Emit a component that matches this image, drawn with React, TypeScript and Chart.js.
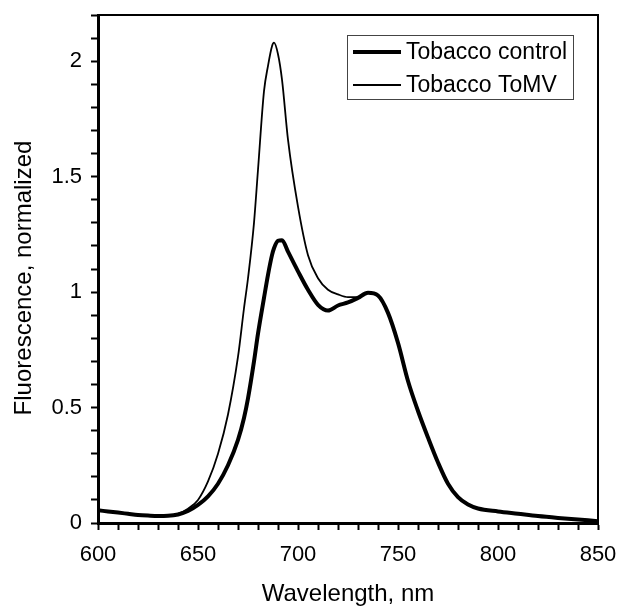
import React, { useEffect, useRef } from "react";
import { Chart, registerables } from "chart.js";

Chart.register(...registerables);

const wavelengths = [
  600, 605, 610, 615, 620, 625, 630, 635, 640, 645, 650, 655, 660, 665, 670, 673, 675, 678, 680,
  683, 685, 687, 688, 690, 692, 695, 700, 705, 710, 715, 720, 725, 730, 735, 740, 745, 750, 755,
  760, 765, 770, 775, 780, 785, 790, 800, 810, 820, 830, 840, 850,
];

const tobaccoControl = [
  0.055, 0.05, 0.045, 0.04, 0.035, 0.032, 0.03, 0.031, 0.037, 0.052, 0.078, 0.115, 0.17, 0.25,
  0.36, 0.455, 0.54, 0.7, 0.82, 0.975, 1.075, 1.16, 1.19, 1.222, 1.225, 1.175, 1.09, 1.01, 0.945,
  0.92, 0.942, 0.955, 0.975, 0.997, 0.985, 0.91, 0.78, 0.615, 0.485, 0.37, 0.262, 0.17, 0.112,
  0.08, 0.063, 0.05, 0.04, 0.03, 0.022, 0.015, 0.008,
];

const tobaccoToMV = [
  0.055, 0.05, 0.045, 0.04, 0.035, 0.032, 0.03, 0.032, 0.04, 0.062, 0.1, 0.18, 0.3, 0.47, 0.72,
  0.93, 1.06, 1.3, 1.53, 1.87, 1.98, 2.065, 2.08, 2.03, 1.92, 1.66, 1.37, 1.16, 1.06, 1.01, 0.99,
  0.978, 0.978, 0.997, 0.985, 0.91, 0.78, 0.615, 0.485, 0.37, 0.262, 0.17, 0.112, 0.08, 0.063,
  0.05, 0.04, 0.03, 0.022, 0.015, 0.008,
];

const seriesLabels = ["Tobacco control", "Tobacco ToMV"];
const xTickLabels = ["600", "650", "700", "750", "800", "850"];
const yTickLabels = ["0", "0.5", "1", "1.5", "2"];
const xTitle = "Wavelength, nm";
const yTitle = "Fluorescence, normalized";

const FONT = "'Liberation Sans', Arial, sans-serif";

const zeroPad = (s: any) => {
  s.paddingLeft = 0;
  s.paddingRight = 0;
  s.paddingTop = 0;
  s.paddingBottom = 0;
};

const framePlugin = {
  id: "frameAndLegend",
  afterDraw(chart: any) {
    const { ctx, chartArea } = chart;
    ctx.save();
    // top and right frame
    ctx.strokeStyle = "#000";
    ctx.lineWidth = 2;
    ctx.beginPath();
    ctx.moveTo(chartArea.left, chartArea.top);
    ctx.lineTo(chartArea.right, chartArea.top);
    ctx.lineTo(chartArea.right, chartArea.bottom);
    ctx.stroke();

    // y axis title
    ctx.save();
    ctx.translate(24, (chartArea.top + chartArea.bottom) / 2 + 9);
    ctx.rotate(-Math.PI / 2);
    ctx.fillStyle = "#000";
    ctx.font = `24px ${FONT}`;
    ctx.textAlign = "center";
    ctx.textBaseline = "middle";
    ctx.fillText(yTitle, 0, 0);
    ctx.restore();

    // legend box
    const boxW = 226;
    const boxH = 64;
    const boxRight = chartArea.right - 25;
    const boxLeft = boxRight - boxW;
    const boxTop = chartArea.top + 20;
    ctx.fillStyle = "#fff";
    ctx.fillRect(boxLeft, boxTop, boxW, boxH);
    ctx.strokeStyle = "#444";
    ctx.lineWidth = 1;
    ctx.strokeRect(boxLeft + 0.5, boxTop + 0.5, boxW, boxH);

    chart.data.datasets.forEach((ds: any, i: number) => {
      const y = boxTop + 17 + i * 33;
      ctx.strokeStyle = ds.borderColor;
      ctx.lineWidth = ds.borderWidth;
      ctx.beginPath();
      ctx.moveTo(boxLeft + 6, y);
      ctx.lineTo(boxLeft + 54, y);
      ctx.stroke();
      ctx.fillStyle = "#000";
      ctx.font = `23px ${FONT}`;
      ctx.textBaseline = "middle";
      ctx.textAlign = "left";
      ctx.fillText(ds.label, boxLeft + 59, y + 1);
    });
    ctx.restore();
  },
};

export default function App() {
  const canvasRef = useRef<HTMLCanvasElement | null>(null);

  useEffect(() => {
    const canvas = canvasRef.current;
    if (!canvas) return;
    const chart = new Chart(canvas, {
      type: "line",
      data: {
        datasets: [
          {
            label: seriesLabels[0],
            data: wavelengths.map((w, i) => ({ x: w, y: tobaccoControl[i] })),
            borderColor: "#000",
            borderWidth: 4,
            pointRadius: 0,
            cubicInterpolationMode: "monotone",
            fill: false,
          },
          {
            label: seriesLabels[1],
            data: wavelengths.map((w, i) => ({ x: w, y: tobaccoToMV[i] })),
            borderColor: "#000",
            borderWidth: 1.8,
            pointRadius: 0,
            cubicInterpolationMode: "monotone",
            fill: false,
          },
        ],
      },
      options: {
        responsive: false,
        animation: false,
        layout: { padding: { top: 15, right: 19, left: 0, bottom: 0 } },
        plugins: {
          legend: { display: false },
          tooltip: { enabled: false },
        },
        scales: {
          x: {
            type: "linear",
            min: 600,
            max: 850,
            afterFit: (s: any) => {
              s.height = 83;
              zeroPad(s);
            },
            ticks: {
              stepSize: 10,
              autoSkip: false,
              maxRotation: 0,
              color: "#000",
              padding: 12,
              font: { family: FONT, size: 22 },
              callback: (v: any) => {
                const s = String(Math.round(Number(v)));
                return xTickLabels.includes(s) && Math.abs(Number(v) - Math.round(Number(v))) < 1e-6 ? s : "";
              },
            },
            grid: {
              drawOnChartArea: false,
              drawTicks: true,
              tickLength: 7,
              tickWidth: 2,
              tickColor: "#000",
            },
            border: { color: "#000", width: 3 },
            title: {
              display: true,
              text: xTitle,
              color: "#000",
              font: { family: FONT, size: 24, lineHeight: 1 },
              padding: { top: 0, bottom: 0 },
            },
          },
          y: {
            type: "linear",
            min: 0,
            max: 2.2,
            afterFit: (s: any) => {
              s.width = 98;
              zeroPad(s);
            },
            ticks: {
              stepSize: 0.1,
              autoSkip: false,
              color: "#000",
              padding: 9,
              font: { family: FONT, size: 22 },
              callback: (v: any) => {
                const n = Number(v);
                const r = Math.round(n * 2) / 2;
                if (Math.abs(n - r) > 1e-6) return "";
                const s = String(r);
                return yTickLabels.includes(s) ? s : "";
              },
            },
            grid: {
              drawOnChartArea: false,
              drawTicks: true,
              tickLength: 7,
              tickWidth: 2,
              tickColor: "#000",
            },
            border: { color: "#000", width: 3 },
            title: { display: false },
          },
        },
      },
      plugins: [framePlugin],
    } as any);
    return () => chart.destroy();
  }, []);

  return (
    <div style={{ position: "fixed", left: 0, top: 0, width: 617, height: 606, background: "#fff" }}>
      <canvas ref={canvasRef} width={617} height={606} style={{ display: "block" }} />
    </div>
  );
}
